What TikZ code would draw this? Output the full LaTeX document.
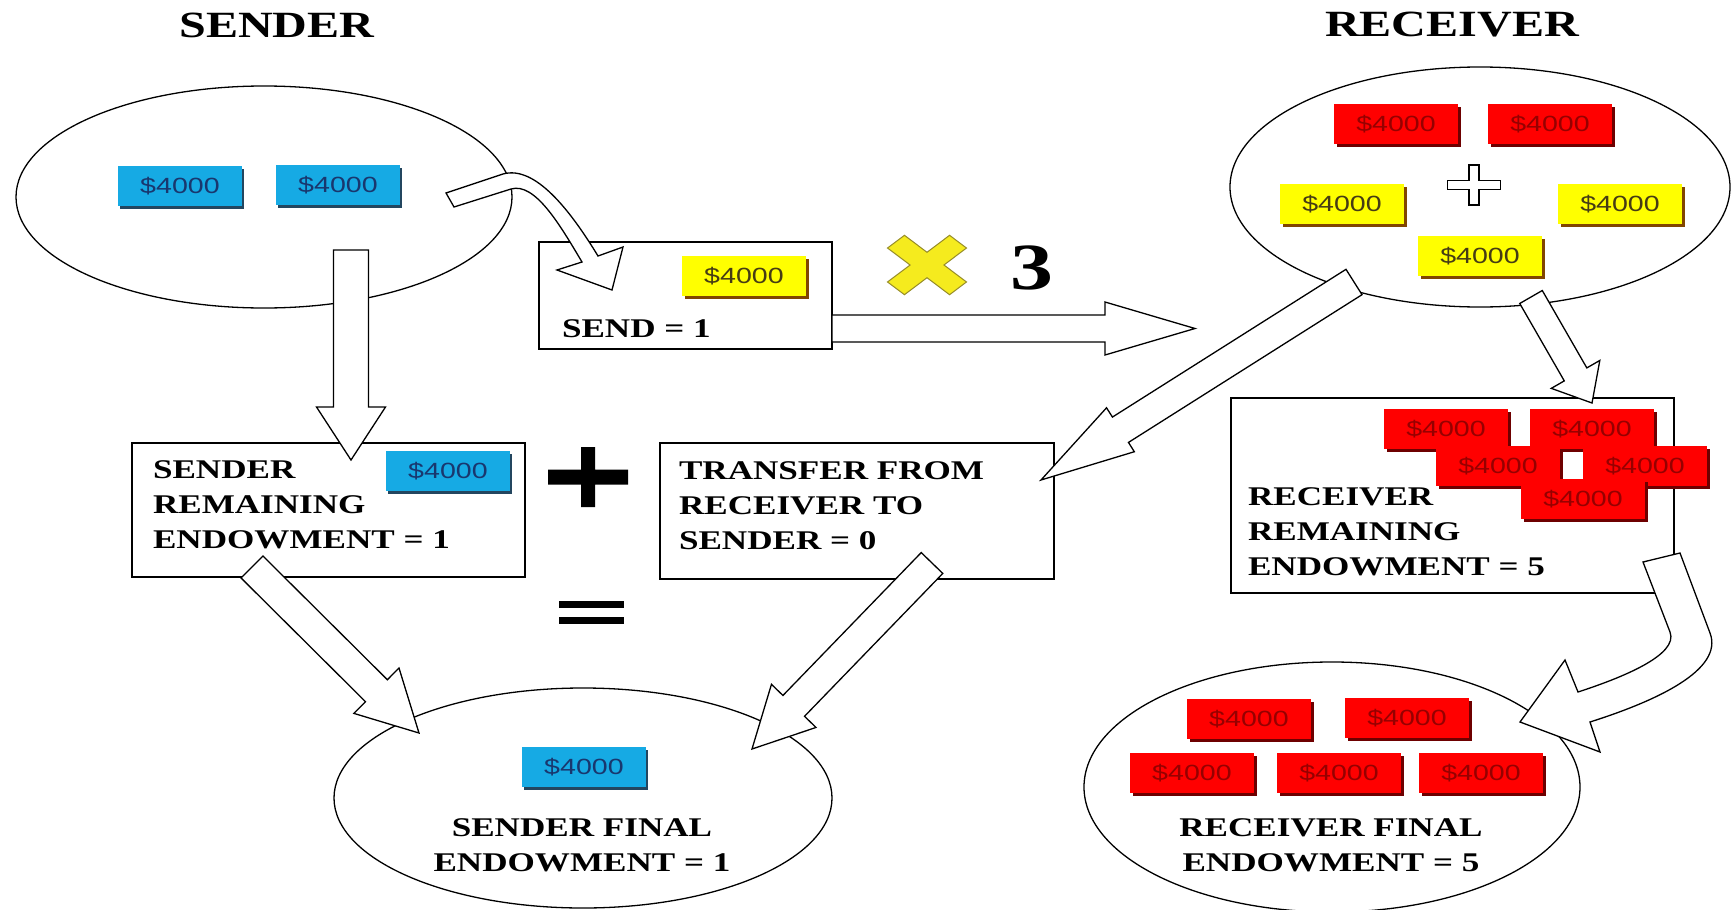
\documentclass[tikz,border=0pt]{standalone}
\usepackage{fontspec}
\setmainfont{Liberation Serif}[FakeStretch=1.3]
\newfontfamily\notefont{Liberation Sans}[FakeStretch=1.3]
\usetikzlibrary{calc,shapes.geometric,shadows}

\definecolor{noteblue}{RGB}{22,170,228}
\definecolor{bluetext}{RGB}{25,55,110}
\definecolor{blueshadow}{RGB}{35,70,95}
\definecolor{noteyellow}{RGB}{255,255,0}
\definecolor{yellowtext}{RGB}{70,60,20}
\definecolor{yellowshadow}{RGB}{130,70,0}
\definecolor{notered}{RGB}{255,0,0}
\definecolor{redtext}{RGB}{150,0,0}
\definecolor{redshadow}{RGB}{110,0,0}
\definecolor{xfill}{RGB}{245,235,30}
\definecolor{xline}{RGB}{150,140,40}

\tikzset{
  every node/.style={inner sep=0pt, outer sep=0pt},
  outl/.style={draw=black, line width=1.3pt},
  ell/.style={ellipse, outl, fill=white},
  box/.style={rectangle, outl, fill=white, anchor=north west},
  blk/.style={draw=black, line width=1.3pt, fill=white, line join=miter},
  note/.style={minimum width=124pt, minimum height=40pt, font=\notefont\fontsize{22pt}{22pt}\selectfont},
  bluenote/.style={note, fill=noteblue, text=bluetext, drop shadow={shadow xshift=2pt, shadow yshift=-2.5pt, fill=blueshadow, opacity=1}},
  yellownote/.style={note, fill=noteyellow, text=yellowtext, drop shadow={shadow xshift=2.5pt, shadow yshift=-2.5pt, fill=yellowshadow, opacity=1}},
  rednote/.style={note, fill=notered, text=redtext, drop shadow={shadow xshift=2.5pt, shadow yshift=-2.5pt, fill=redshadow, opacity=1}},
  lbl/.style={font=\bfseries\fontsize{27pt}{35pt}\selectfont, align=left},
  clbl/.style={font=\bfseries\fontsize{27pt}{35pt}\selectfont, align=center},
  titlelbl/.style={font=\bfseries\fontsize{37pt}{37pt}\selectfont},
}

% #1 tail, #2 tip, #3 shaft half width, #4 head half width, #5 head length
\newcommand{\blockarrow}[5]{%
  \path ($(#2)!#5!(#1)$) coordinate (bah);
  \draw[blk] ($(#1)!#3!90:(#2)$) -- ($(bah)!#3!90:(#2)$) -- ($(bah)!#4!90:(#2)$) -- (#2)
    -- ($(bah)!#4!-90:(#2)$) -- ($(bah)!#3!-90:(#2)$) -- ($(#1)!#3!-90:(#2)$) -- cycle;}

\begin{document}
\begin{tikzpicture}[x=1pt,y=-1pt]
\useasboundingbox (0,0) rectangle (1735,910);
\fill[white] (0,0) rectangle (1735,910);

% titles
\node[titlelbl] (tsend) at (277,25) {SENDER};
\node[titlelbl] (trec) at (1452,25) {RECEIVER};

% ellipses
\node[ell, minimum width=496pt, minimum height=222pt] (sell) at (264,197) {};
\node[ell, minimum width=500pt, minimum height=240pt] (rell) at (1480,187) {};
\node[ell, minimum width=498pt, minimum height=220pt] (sfin) at (583,798) {};
\node[ell, minimum width=496pt, minimum height=250pt] (rfin) at (1332,787) {};

% boxes
\node[box, minimum width=293pt, minimum height=107pt] (sendbox) at (539,242) {};
\node[box, minimum width=393pt, minimum height=134pt] (srem) at (132,443) {};
\node[box, minimum width=394pt, minimum height=136pt] (trans) at (660,443) {};
\node[box, minimum width=443pt, minimum height=195pt] (rrem) at (1231,398) {};

% notes: sender ellipse
\node[bluenote] (sb1) at (180,186) {\$4000};
\node[bluenote] (sb2) at (338,185) {\$4000};
% send box
\node[yellownote] (sy1) at (744,276) {\$4000};
% receiver ellipse
\node[rednote] (rr1) at (1396,124) {\$4000};
\node[rednote] (rr2) at (1550,124) {\$4000};
\node[yellownote] (ry1) at (1342,204) {\$4000};
\node[yellownote] (ry2) at (1620,204) {\$4000};
\node[yellownote] (ry3) at (1480,256) {\$4000};
% sender remaining
\node[bluenote] (srb) at (448,471) {\$4000};
% receiver remaining
\node[rednote] (q1) at (1446,429) {\$4000};
\node[rednote] (q2) at (1592,429) {\$4000};
\node[rednote] (q3) at (1498,466) {\$4000};
\node[rednote] (q4) at (1645,466) {\$4000};
\node[rednote] (q5) at (1583,499) {\$4000};
% receiver final
\node[rednote] (f1) at (1249,719) {\$4000};
\node[rednote] (f2) at (1407,718) {\$4000};
\node[rednote] (f3) at (1192,773) {\$4000};
\node[rednote] (f4) at (1339,773) {\$4000};
\node[rednote] (f5) at (1481,773) {\$4000};
% sender final
\node[bluenote] (sfb) at (584,767) {\$4000};

% labels
\node[lbl, anchor=west] (lsend) at (562,329) {SEND = 1};
\node[lbl, anchor=west] (lsrem) at (153,505) {SENDER\\REMAINING\\ENDOWMENT = 1};
\node[lbl, anchor=west] (ltrans) at (679,506) {TRANSFER FROM\\RECEIVER TO\\SENDER = 0};
\node[lbl, anchor=west] (lrrem) at (1248,532) {RECEIVER\\REMAINING\\ENDOWMENT = 5};
\node[clbl] (lsfin) at (582,845) {SENDER FINAL\\ENDOWMENT = 1};
\node[clbl] (lrfin) at (1331,845) {RECEIVER FINAL\\ENDOWMENT = 5};
\node[font=\bfseries\fontsize{66pt}{66pt}\selectfont] (three) at (1032,268) {3};

% yellow multiplication cross
\begin{scope}[shift={(927,265)}, xscale=1.33, rotate=45]
  \draw[fill=xfill, draw=xline, line width=1pt] (9,33) -- (9,9) -- (33,9) -- (33,-9) -- (9,-9) -- (9,-33)
    -- (-9,-33) -- (-9,-9) -- (-33,-9) -- (-33,9) -- (-9,9) -- (-9,33) -- cycle;
\end{scope}

% outline plus in receiver ellipse
\begin{scope}[shift={(1474,185)}]
  \draw[fill=white, draw=black, line width=1.1pt] (-5,-20) -- (5,-20) -- (5,-4.5) -- (26.5,-4.5) -- (26.5,4.5)
    -- (5,4.5) -- (5,20) -- (-5,20) -- (-5,4.5) -- (-26.5,4.5) -- (-26.5,-4.5) -- (-5,-4.5) -- cycle;
\end{scope}

% big plus and equals
\begin{scope}[shift={(588,477)}]
  \fill[black] (-7,-30) -- (7,-30) -- (7,-7.5) -- (40,-7.5) -- (40,7.5) -- (7,7.5) -- (7,30) -- (-7,30)
    -- (-7,7.5) -- (-40,7.5) -- (-40,-7.5) -- (-7,-7.5) -- cycle;
\end{scope}
\fill[black] (559,601) rectangle (624,608);
\fill[black] (559,617) rectangle (624,624);

% arrow end points
\coordinate (a1t) at (351,250);  \coordinate (a1h) at (351,460);
\coordinate (a2t) at (832,328.5); \coordinate (a2h) at (1195,328.5);
\coordinate (a3t) at (1354,282); \coordinate (a3h) at (1041,480);
\coordinate (a4t) at (1531,297); \coordinate (a4h) at (1592,403);
\coordinate (a5t) at (252,567);  \coordinate (a5h) at (419,733);
\coordinate (a6t) at (932,563);  \coordinate (a6h) at (752,749);

\blockarrow{a1t}{a1h}{17.5pt}{34.5pt}{53pt}
\blockarrow{a2t}{a2h}{13.5pt}{26.5pt}{90pt}
\blockarrow{a3t}{a3h}{15pt}{26pt}{94pt}
\blockarrow{a4t}{a4h}{13pt}{28pt}{33pt}
\blockarrow{a5t}{a5h}{15.5pt}{32pt}{60pt}
\blockarrow{a6t}{a6h}{15pt}{31pt}{60pt}

% curved arrow: sender ellipse -> send box
\draw[blk] (446,193) -- (503,174) .. controls (535,165) and (570,210) .. (598,256) -- (623,247) -- (612,290)
  -- (557,270) -- (582,262) .. controls (560,225) and (535,182) .. (511,189) -- (454,207) -- cycle;

% curved arrow: receiver remaining -> receiver final
\draw[blk] (1643,562) -- (1670,632) .. controls (1679,655) and (1621,678) .. (1578,692) -- (1565,660)
  -- (1520,722) -- (1600,752) -- (1590,722) .. controls (1656,701) and (1724,670) .. (1710,633)
  -- (1680,553) -- cycle;

\end{tikzpicture}
\end{document}
